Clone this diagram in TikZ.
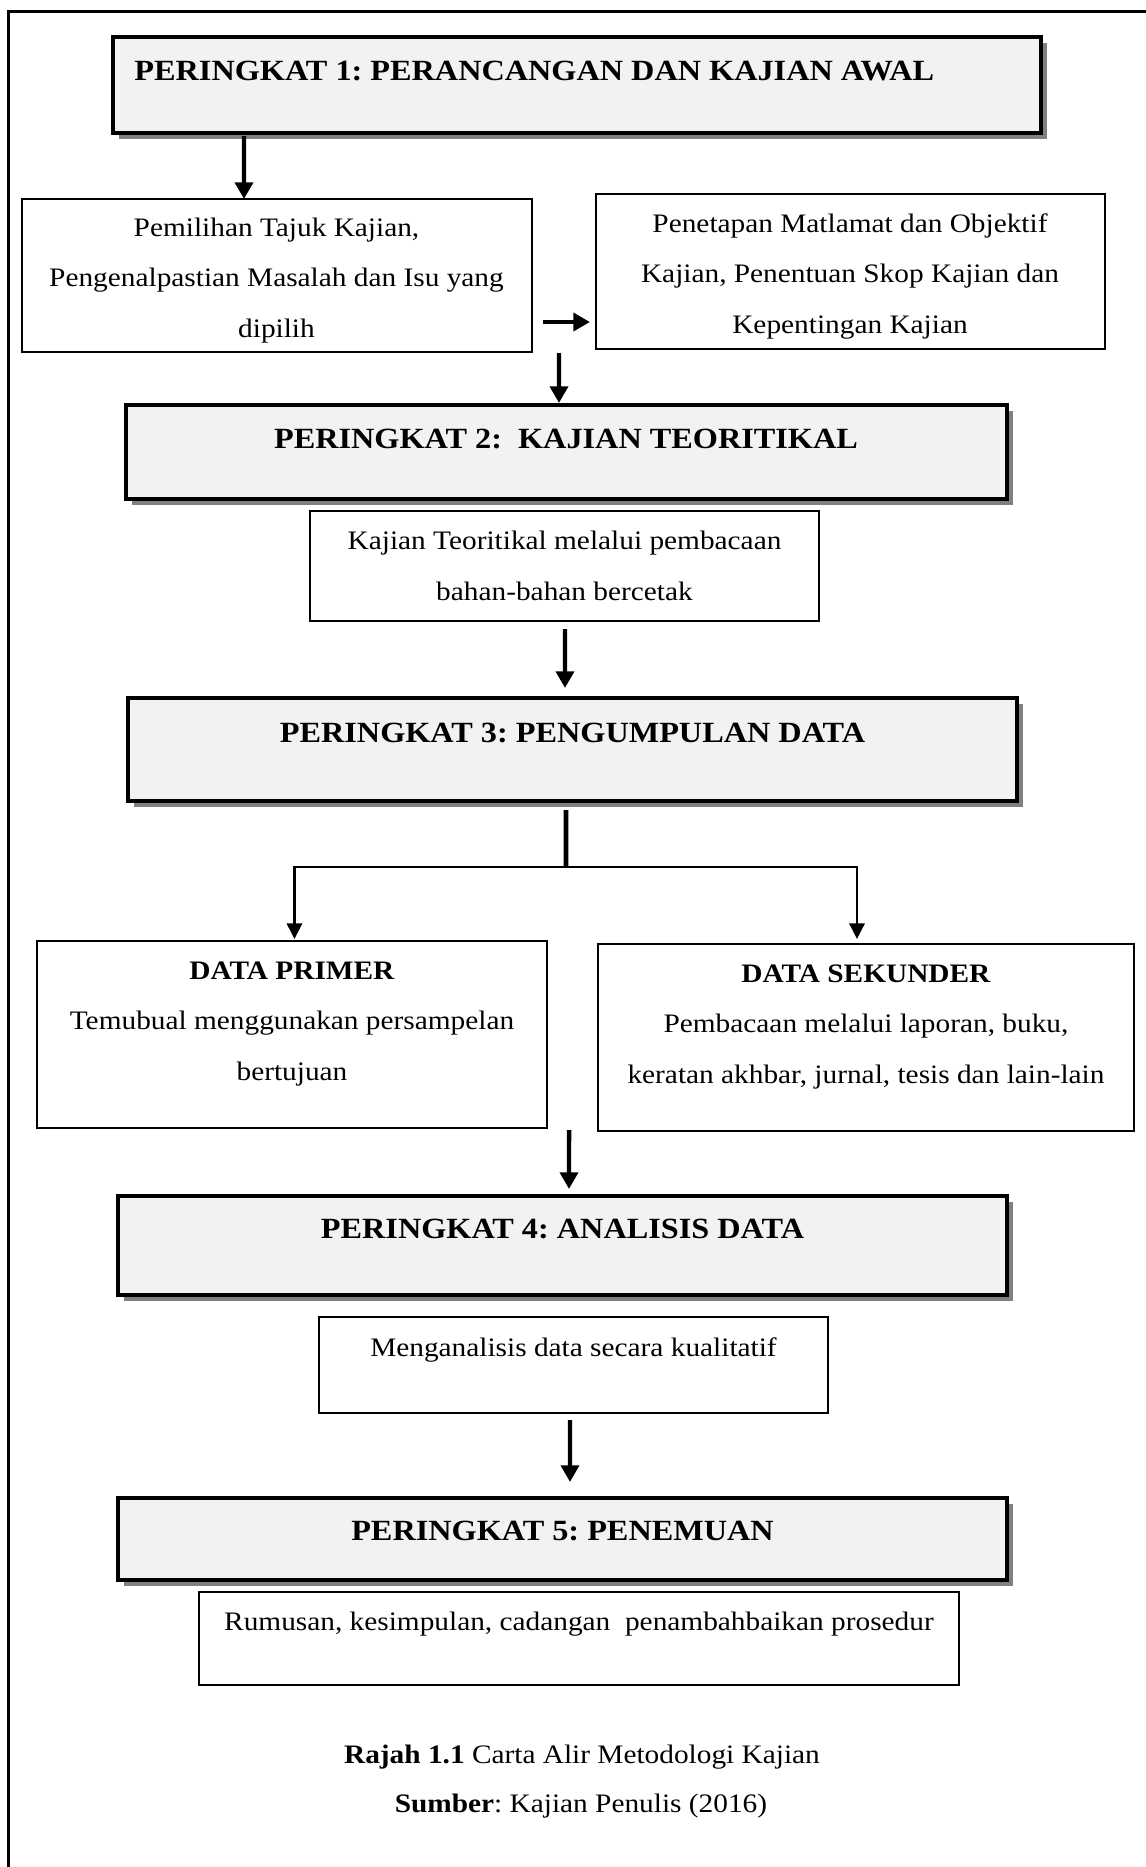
\documentclass[tikz,border=0pt]{standalone}
\usepackage{fontspec}
\setmainfont{Liberation Serif}[FakeStretch=1.1]
\usetikzlibrary{arrows.meta,shadows,calc}
\frenchspacing

\begin{document}
\begin{tikzpicture}[x=0.45pt,y=-0.45pt,
  stage/.style={draw,line width=1.5pt,fill=color1,inner sep=0pt,outer sep=0pt,
    drop shadow={shadow xshift=2.6pt,shadow yshift=-2.6pt,fill=color2,opacity=1}},
  plainbox/.style={draw,line width=0.9pt,fill=white,inner sep=0pt,outer sep=0pt},
  txt/.style={font=\fontsize{12pt}{22.7pt}\selectfont,inner sep=0pt,align=center,anchor=base},
  title/.style={txt,font=\fontsize{13.2pt}{22.7pt}\selectfont\bfseries},
  bigarrow/.style={line width=2pt,-{Triangle[width=8pt,length=7.5pt]}},
  thinarrow/.style={line width=1.2pt,-{Triangle[width=6.8pt,length=7pt]}}]
\definecolor{color1}{rgb}{0.95,0.95,0.95}
\definecolor{color2}{rgb}{0.5,0.5,0.5}
\clip (0,0) rectangle (1146,1867);
\draw[line width=1.3pt] (8.5,1900) -- (8.5,11.5) -- (1180,11.5);
\node[stage,minimum width=417.6pt,minimum height=43.2pt] (p1) at (577,85) {};
\node[plainbox,minimum width=229.5pt,minimum height=68.85pt] (a) at (277,275.5) {};
\node[plainbox,minimum width=229.05pt,minimum height=69.75pt] (b) at (850.5,271.5) {};
\node[stage,minimum width=396.45pt,minimum height=42.3pt] (p2) at (566.5,452) {};
\node[plainbox,minimum width=229.05pt,minimum height=49.5pt] (c) at (564.5,566) {};
\node[stage,minimum width=400.05pt,minimum height=46.35pt] (p3) at (572.5,749.5) {};
\node[plainbox,minimum width=229.3pt,minimum height=84.15pt] (d) at (292.25,1034.5) {};
\node[plainbox,minimum width=241.2pt,minimum height=84.15pt] (e) at (866,1037.5) {};
\node[stage,minimum width=400.05pt,minimum height=44.55pt] (p4) at (562.5,1245.5) {};
\node[plainbox,minimum width=229.05pt,minimum height=43.2pt] (f) at (573.5,1365) {};
\node[stage,minimum width=400.05pt,minimum height=36.9pt] (p5) at (562.5,1539) {};
\node[plainbox,minimum width=342pt,minimum height=41.85pt] (g) at (579,1638.5) {};
\node[title,anchor=base west] (t1) at (134,80) {PERINGKAT 1: PERANCANGAN DAN KAJIAN AWAL};
\node[txt] (ta) at (276.5,337) {Pemilihan Tajuk Kajian,\\Pengenalpastian Masalah dan Isu yang\\dipilih};
\node[txt] (tb) at (850,333) {Penetapan Matlamat dan Objektif\\Kajian, Penentuan Skop Kajian dan\\Kepentingan Kajian};
\node[title] (t2) at (566,448) {PERINGKAT 2:\ \ KAJIAN TEORITIKAL};
\node[txt] (tc) at (564.5,600) {Kajian Teoritikal melalui pembacaan\\bahan-bahan bercetak};
\node[title] (t3) at (572.5,742) {PERINGKAT 3: PENGUMPULAN DATA};
\node[txt] (td) at (292,1080) {\textbf{DATA PRIMER}\\Temubual menggunakan persampelan\\bertujuan};
\node[txt] (te) at (866,1083) {\textbf{DATA SEKUNDER}\\Pembacaan melalui laporan, buku,\\keratan akhbar, jurnal, tesis dan lain-lain};
\node[title] (t4) at (562.5,1238) {PERINGKAT 4: ANALISIS DATA};
\node[txt] (tf) at (573.5,1356) {Menganalisis data secara kualitatif};
\node[title] (t5) at (562.5,1540) {PERINGKAT 5: PENEMUAN};
\node[txt] (tg) at (579,1630) {Rumusan, kesimpulan, cadangan\ \ penambahbaikan prosedur};
\node[txt] (cap1) at (582,1763) {\textbf{Rajah 1.1} Carta Alir Metodologi Kajian};
\node[txt] (cap2) at (581,1812) {\textbf{Sumber}: Kajian Penulis (2016)};
\coordinate (j3) at (566,867);
\draw[bigarrow] ($(p1.south west)+(131,3)$) -- ($(a.north west)+(222,0)$);
\draw[bigarrow] ($(a.south east)+(11,-30)$) -- ($(b.south west)+(-6,-27)$);
\draw[bigarrow] ($(a.south east)+(27,1)$) -- ($(p2.north west)+(433,-2)$);
\draw[bigarrow] ($(c.south west)+(255,8)$) -- ($(p3.north west)+(437,-10)$);
\draw[line width=2.2pt] ($(p3.south west)+(438,9)$) -- (j3);
\draw[thinarrow] (j3) -| ($(d.north west)+(257,-2)$);
\draw[thinarrow] (j3) -| ($(e.north west)+(259,-5)$);
\draw[bigarrow] ($(d.south east)+(22,2)$) -- ($(p4.north west)+(451,-7)$);
\draw[bigarrow] ($(f.south west)+(251,7)$) -- ($(p5.north west)+(452,-16)$);
\end{tikzpicture}
\end{document}
